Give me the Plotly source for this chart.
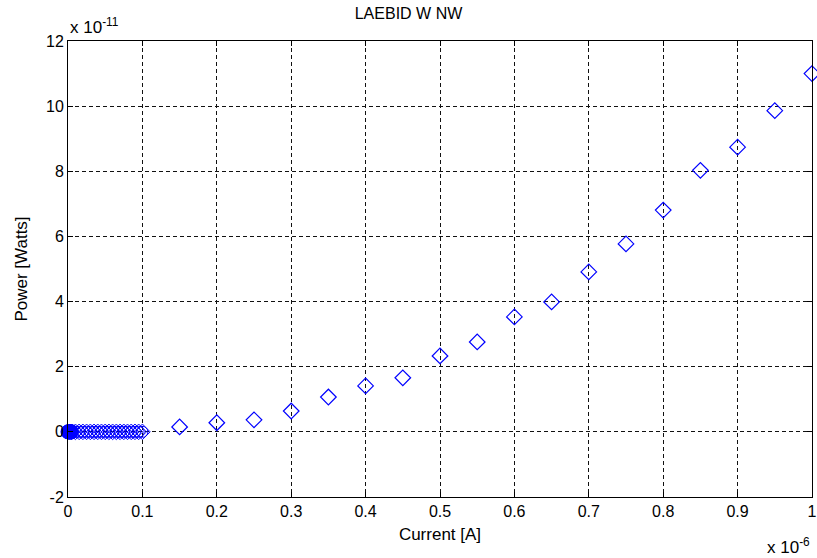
import plotly.graph_objects as go

# Main measured points (x in units of 1e-6 A, y in units of 1e-11 W)
current_main = [0.15, 0.20, 0.25, 0.30, 0.35, 0.40, 0.45, 0.50, 0.55, 0.60,
                0.65, 0.70, 0.75, 0.80, 0.85, 0.90, 0.95, 1.00]
power_main = [0.15, 0.28, 0.37, 0.64, 1.07, 1.41, 1.66, 2.33, 2.76, 3.53,
              3.99, 4.91, 5.77, 6.81, 8.03, 8.74, 9.86, 11.0]

# Dense low-current points
current_low = [0.005, 0.010, 0.015, 0.020, 0.025, 0.030, 0.035, 0.040, 0.045, 0.050,
               0.055, 0.060, 0.065, 0.070, 0.075, 0.080, 0.085, 0.090, 0.095, 0.100]
power_low = [0.0, 0.0, 0.0, 0.0, 0.0, 0.0, 0.0, 0.0, 0.0, 0.0,
             0.0, 0.0, 0.0, 0.0, 0.0, 0.0, 0.0, 0.0, 0.0, 0.0]

# Very low-current points (overlapping near zero)
current_zero = [0.0, 0.0005, 0.001, 0.0015, 0.002, 0.0025, 0.003, 0.0035, 0.004, 0.0045]
power_zero = [0.0, 0.0, 0.0, 0.0, 0.0, 0.0, 0.0, 0.0, 0.0, 0.0]

x_ticks = [0, 0.1, 0.2, 0.3, 0.4, 0.5, 0.6, 0.7, 0.8, 0.9, 1]
x_tick_labels = ["0", "0.1", "0.2", "0.3", "0.4", "0.5", "0.6", "0.7", "0.8", "0.9", "1"]
y_ticks = [-2, 0, 2, 4, 6, 8, 10, 12]
y_tick_labels = ["-2", "0", "2", "4", "6", "8", "10", "12"]

blue = "#0000ff"
font = "Liberation Sans, Arial, sans-serif"

fig = go.Figure()
fig.add_trace(go.Scatter(x=current_zero, y=power_zero, mode="markers", cliponaxis=False,
                         marker=dict(symbol="circle", size=14, color=blue,
                                     line=dict(color=blue, width=1))))
fig.add_trace(go.Scatter(x=current_low, y=power_low, mode="markers", cliponaxis=False,
                         marker=dict(symbol="diamond-open", size=12, color=blue,
                                     line=dict(color=blue, width=1))))
fig.add_trace(go.Scatter(x=current_low, y=power_low, mode="markers", cliponaxis=False,
                         marker=dict(symbol="circle-open", size=11, color=blue,
                                     line=dict(color=blue, width=1))))
fig.add_trace(go.Scatter(x=current_main, y=power_main, mode="markers", cliponaxis=False,
                         marker=dict(symbol="diamond-open", size=12, color=blue,
                                     line=dict(color=blue, width=1.2))))

axis_common = dict(showline=True, mirror="ticks", linecolor="black", linewidth=1,
                   ticks="inside", ticklen=5, tickcolor="black",
                   showgrid=True, gridcolor="#111111", griddash="4px,3px", gridwidth=1,
                   zeroline=False, ticklabeloverflow="allow", automargin=False,
                   tickfont=dict(family=font, size=16, color="black"))

fig.update_layout(
    width=817, height=558,
    margin=dict(l=68, r=5, t=41, b=61),
    paper_bgcolor="white", plot_bgcolor="white",
    showlegend=False,
    title=dict(text="LAEBID W NW", x=0.5, xanchor="center", y=1 - 13 / 558, yanchor="middle",
               font=dict(family=font, size=16, color="black")),
    xaxis=dict(range=[0, 1], tickvals=x_ticks, ticktext=x_tick_labels,
               title=dict(text="Current [A]", font=dict(family=font, size=17, color="black"),
                          standoff=8),
               **axis_common),
    yaxis=dict(range=[-2, 12], tickvals=y_ticks, ticktext=y_tick_labels,
               title=dict(text="Power [Watts]", font=dict(family=font, size=17, color="black"),
                          standoff=14),
               **axis_common),
    annotations=[
        dict(text="x 10<sup>-11</sup>", xref="paper", yref="paper", x=0, y=1,
             xanchor="left", yanchor="bottom", yshift=2, showarrow=False,
             font=dict(family=font, size=17, color="black")),
        dict(text="x 10<sup>-6</sup>", xref="paper", yref="paper", x=1, y=0,
             xanchor="right", yanchor="top", yshift=-36, showarrow=False,
             font=dict(family=font, size=17, color="black")),
    ],
)

fig.write_html("out.html")
